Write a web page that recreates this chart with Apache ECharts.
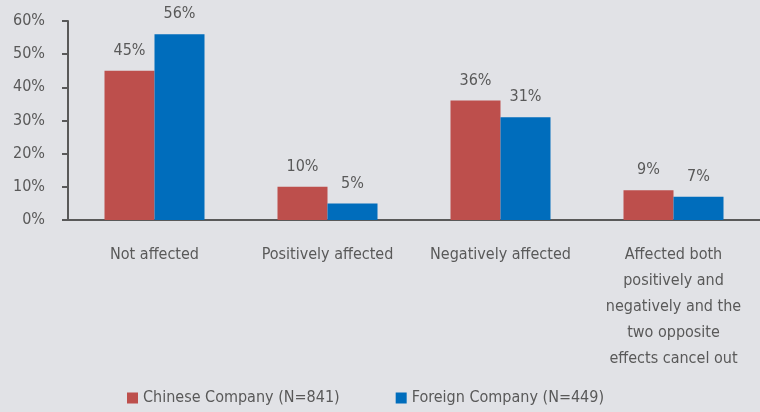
<!DOCTYPE html>
<html>
<head>
<meta charset="utf-8">
<script src="https://cdn.jsdelivr.net/npm/echarts@6/dist/echarts.min.js"></script>
<style>
  html, body { margin: 0; padding: 0; background: #e1e2e6; }
  #chart { width: 760px; height: 412px; }
</style>
</head>
<body>
<div id="chart"></div>
<script>
// categories / series
var categories = [
  'Not affected',
  'Positively affected',
  'Negatively affected',
  'Affected both\npositively and\nnegatively and the\ntwo opposite\neffects cancel out'
];
var chineseValues = [45, 10, 36, 9];
var foreignValues = [56, 5, 31, 7];
var seriesNames = ['Chinese Company (N=841)', 'Foreign Company (N=449)'];

var font = '"Liberation Sans Narrow", "DejaVu Sans Condensed", Arial, sans-serif';
var textColor = '#595959';

var chart = echarts.init(document.getElementById('chart'));
chart.setOption({
  backgroundColor: '#e1e2e6',
  animation: false,
  textStyle: { fontFamily: font },
  grid: { left: 68, right: 0, top: 21, bottom: 192 },
  legend: {
    top: 390,
    left: 127,
    padding: 0,
    itemWidth: 11,
    itemHeight: 11,
    itemGap: 56,
    icon: 'rect',
    textStyle: { color: textColor, fontSize: 16, fontFamily: font },
    data: seriesNames
  },
  xAxis: {
    type: 'category',
    data: categories,
    axisLine: { lineStyle: { color: '#595959', width: 2 } },
    axisTick: { show: false },
    axisLabel: {
      color: textColor,
      fontSize: 16,
      fontFamily: font,
      lineHeight: 26,
      margin: 22,
      interval: 0
    }
  },
  yAxis: {
    type: 'value',
    min: 0,
    max: 60,
    interval: 10,
    splitLine: { show: false },
    axisLine: { show: true, lineStyle: { color: '#595959', width: 2 } },
    axisTick: { show: true, length: 6, lineStyle: { color: '#595959', width: 2 } },
    axisLabel: {
      color: textColor,
      fontSize: 16,
      fontFamily: font,
      margin: 23,
      formatter: '{value}%'
    }
  },
  series: [
    {
      name: seriesNames[0],
      type: 'bar',
      data: chineseValues,
      barWidth: 50,
      barGap: '0%',
      itemStyle: { color: '#bd4f4c' },
      label: {
        show: true, position: 'top', distance: 12,
        color: textColor, fontSize: 16, fontFamily: font,
        formatter: '{c}%'
      }
    },
    {
      name: seriesNames[1],
      type: 'bar',
      data: foreignValues,
      barWidth: 50,
      itemStyle: { color: '#006dbc' },
      label: {
        show: true, position: 'top', distance: 12,
        color: textColor, fontSize: 16, fontFamily: font,
        formatter: '{c}%'
      }
    }
  ]
});
</script>
</body>
</html>
